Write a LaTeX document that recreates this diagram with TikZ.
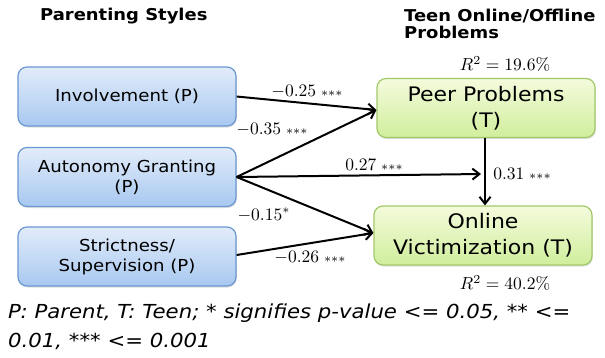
\documentclass[tikz,border=0pt]{standalone}
\usepackage{graphicx}
\usepackage[no-math]{fontspec}
\setmainfont[FakeStretch=1.1]{DejaVu Sans}
\usetikzlibrary{arrows.meta,shadows,calc}
\definecolor{bluetop}{HTML}{E2ECFA}
\definecolor{bluebot}{HTML}{A8C8F0}
\definecolor{blueedge}{HTML}{6B98D0}
\definecolor{greentop}{HTML}{F4FBDC}
\definecolor{greenbot}{HTML}{D0EE9C}
\definecolor{greenedge}{HTML}{A3C86A}
\tikzset{
  pbox/.style={rectangle, rounded corners=9pt, draw=blueedge, line width=1.2pt,
    top color=bluetop, bottom color=bluebot, minimum width=218pt, minimum height=59pt,
    align=center, inner sep=0pt, font=\fontsize{16.5}{20}\selectfont,
    drop shadow={opacity=0.25, shadow xshift=0.8pt, shadow yshift=-1.5pt}},
  tbox/.style={rectangle, rounded corners=9pt, draw=greenedge, line width=1.2pt,
    top color=greentop, bottom color=greenbot, minimum width=218pt, minimum height=59pt,
    align=center, inner sep=0pt, font=\fontsize{20}{26}\selectfont,
    drop shadow={opacity=0.25, shadow xshift=0.8pt, shadow yshift=-1.5pt}},
  hdr/.style={anchor=base west, inner sep=0pt, font=\fontsize{16.3}{17}\selectfont\bfseries},
  lbl/.style={inner sep=0pt, font=\normalsize},
  captxt/.style={anchor=base west, inner sep=0pt, font=\fontsize{19.3}{20}\selectfont\itshape},
  conn/.style={line width=2pt, -{Straight Barb[length=7pt,width=11pt,line width=2pt]}}
}
\newcommand{\stars}{\;{\scriptstyle{*}{*}{*}}}
\newcommand{\mlab}[1]{\scalebox{1.75}{$#1$}}
\begin{document}
\begin{tikzpicture}[x=1pt,y=-1pt]
\useasboundingbox (0,0) rectangle (605,357);
% headers
\node[hdr] (h1) at (40,20) {Parenting Styles};
\node[hdr] (h2) at (404,21) {Teen Online/Offline};
\node[hdr] (h3) at (404,38) {Problems};
% boxes
\node[pbox] (inv) at (127,96.5) {Involvement (P)};
\node[pbox] (aut) at (127,177) {Autonomy Granting\\(P)};
\node[pbox] (str) at (127,256.5) {Strictness/\\Supervision (P)};
\node[tbox] (peer) at (486,108) {Peer Problems\\(T)};
\node[tbox] (onl) at (483,235.5) {Online\\Victimization (T)};
% R^2
\node[lbl] (r1) at (505,64) {\mlab{R^2 = 19.6\%}};
\node[lbl] (r2) at (505,283) {\mlab{R^2 = 40.2\%}};
% connectors
\coordinate (pin) at ([yshift=-2pt]peer.west);
\coordinate (oin) at ([yshift=2.5pt]onl.west);
\coordinate (ptop) at ([xshift=-1pt]peer.south);
\coordinate (obot) at (ptop |- onl.north);
\coordinate (mid) at (481,174);
\draw[conn] (inv.east) -- (pin);
\draw[conn] (aut.east) -- (pin);
\draw[conn] (aut.east) -- (mid);
\draw[conn] (aut.east) -- (oin);
\draw[conn] ([yshift=1.5pt]str.east) -- (oin);
\draw[conn] (ptop) -- (obot);
% labels
\node[lbl] (l1) at (307,92) {\mlab{-0.25\stars}};
\node[lbl] (l2) at (272,130) {\mlab{-0.35\stars}};
\node[lbl] (l3) at (374,165) {\mlab{0.27\stars}};
\node[lbl] (l4) at (522,174) {\mlab{0.31\stars}};
\node[lbl] (l5) at (264,215) {\mlab{-0.15^{*}}};
\node[lbl] (l6) at (310,258) {\mlab{-0.26\stars}};
% caption
\node[captxt] (c1) at (8,318) {P: Parent, T: Teen; * signifies p-value <= 0.05, ** <=};
\node[captxt] (c2) at (8,347) {0.01, *** <= 0.001};
\end{tikzpicture}
\end{document}
